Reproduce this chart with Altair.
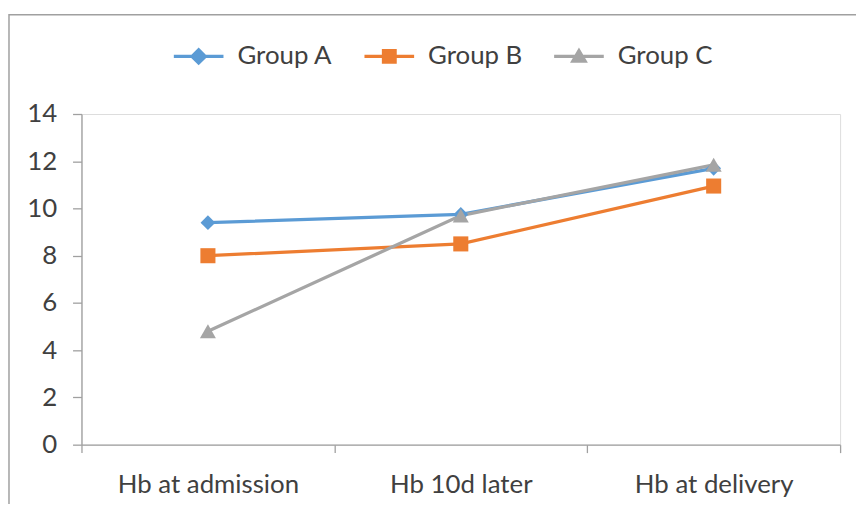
import altair as alt
import pandas as pd

categories = ["Hb at admission", "Hb 10d later", "Hb at delivery"]
groups = ["Group A", "Group B", "Group C"]
group_a = [9.4, 9.75, 11.7]
group_b = [8.0, 8.5, 10.95]
group_c = [4.8, 9.7, 11.85]
y_ticks = [0, 2, 4, 6, 8, 10, 12, 14]

colors = ["#5B9BD5", "#ED7D31", "#A5A5A5"]
shapes = ["diamond", "square", "triangle-up"]
sizes = [220, 230, 260]
legend_paths = [
    "M-1,-0.065L1,-0.065L1,0.065L-1,0.065Z M0,-0.36L0.36,0L0,0.36L-0.36,0Z",
    "M-1,-0.065L1,-0.065L1,0.065L-1,0.065Z M-0.3,-0.3L0.3,-0.3L0.3,0.3L-0.3,0.3Z",
    "M-1,-0.065L1,-0.065L1,0.065L-1,0.065Z M0,-0.36L0.36,0.26L-0.36,0.26Z",
]

rows = []
for g, vals in zip(groups, [group_a, group_b, group_c]):
    for c, v in zip(categories, vals):
        rows.append({"category": c, "group": g, "value": v})
df = pd.DataFrame(rows)

FONT = "Lato"
FS = 26
TEXT = "#404040"
AXIS = "#A0A0A0"

x_enc = alt.X(
    "category:N",
    sort=categories,
    scale=alt.Scale(type="band", domain=categories, paddingInner=0, paddingOuter=0),
    axis=alt.Axis(
        title=None, labelAngle=0, tickBand="extent", tickSize=8, labelPadding=19,
        domainColor=AXIS, tickColor=AXIS, domainWidth=1.3, tickWidth=1.3,
        labelFont=FONT, labelFontSize=FS, labelColor=TEXT, grid=False, labelLimit=0,
    ),
)
y_enc = alt.Y(
    "value:Q",
    scale=alt.Scale(domain=[0, 14], nice=False, zero=True),
    axis=alt.Axis(
        title=None, values=y_ticks, grid=False, tickSize=9, labelPadding=16,
        domainColor=AXIS, tickColor=AXIS, domainWidth=1.3, tickWidth=1.3,
        labelFont=FONT, labelFontSize=FS, labelColor=TEXT,
    ),
)

base = alt.Chart(df)

leg = dict(
    title=None, orient="none", legendX=93, legendY=-83, direction="horizontal",
    symbolSize=2500, symbolStrokeWidth=0, symbolOpacity=1, labelOffset=14,
    columnPadding=32, labelFont=FONT, labelFontSize=FS, labelColor=TEXT, labelLimit=0,
)

legend_layer = base.transform_filter("false").mark_point(filled=True).encode(
    x=x_enc,
    y=y_enc,
    color=alt.Color("group:N", scale=alt.Scale(domain=groups, range=colors),
                    legend=alt.Legend(**leg)),
    shape=alt.Shape("group:N", scale=alt.Scale(domain=groups, range=legend_paths),
                    legend=alt.Legend(**leg)),
)

layers = [legend_layer]
for g, col in zip(groups, colors):
    layers.append(
        base.transform_filter(alt.datum.group == g)
        .mark_line(color=col, strokeWidth=3.3)
        .encode(x=x_enc, y=y_enc)
    )
for g, col, sh, sz in zip(groups, colors, shapes, sizes):
    layers.append(
        base.transform_filter(alt.datum.group == g)
        .mark_point(color=col, filled=True, opacity=1, shape=sh, size=sz)
        .encode(x=x_enc, y=y_enc)
    )

border = alt.Chart(pd.DataFrame({"b": [0]})).mark_rect(
    fillOpacity=0, stroke="#A0A0A0", strokeWidth=1.5
).encode(
    x=alt.value(-73), x2=alt.value(900), y=alt.value(-100), y2=alt.value(600)
)
layers.append(border)

chart = alt.layer(*layers).properties(
    width=764,
    height=333,
    autosize=alt.AutoSizeParams(type="none"),
    padding={"left": 74, "top": 105, "right": 16, "bottom": 58},
).configure_view(stroke=None).configure(background="white")

chart.save("out.html", embed_options={"renderer": "svg", "actions": False})
